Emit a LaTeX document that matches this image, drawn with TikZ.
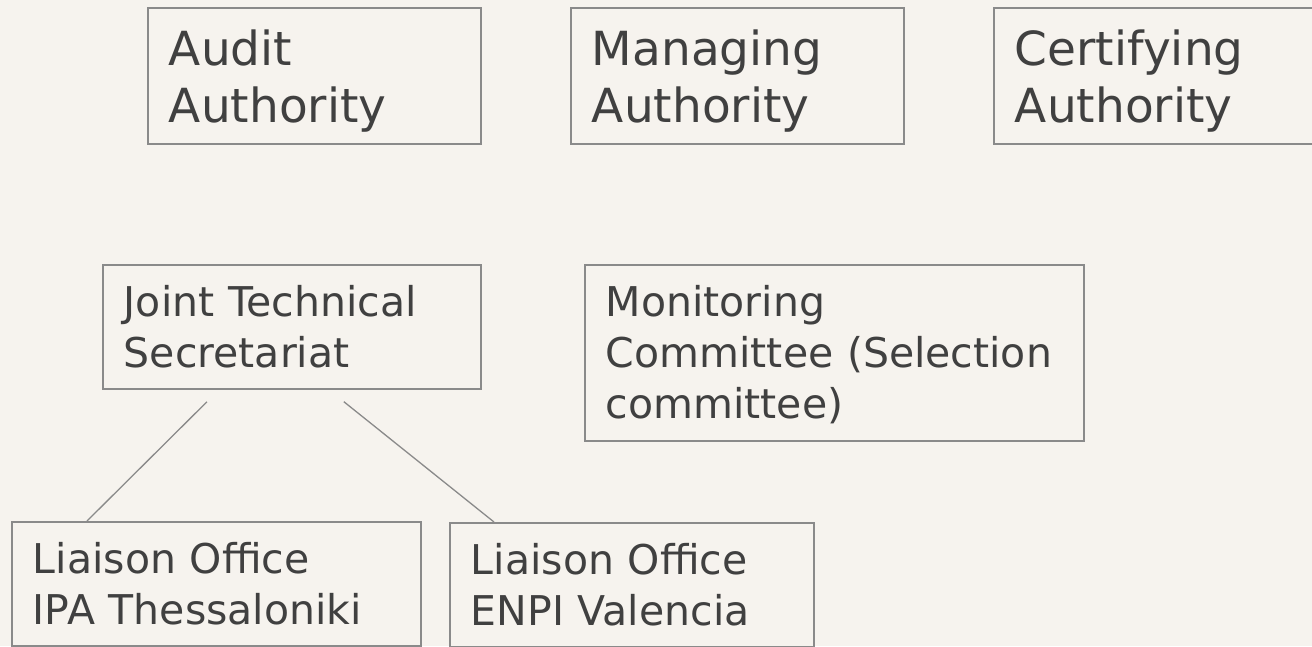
\documentclass[tikz,border=0pt]{standalone}
\usepackage{fontspec}
\setmainfont{DejaVu Sans}
\definecolor{paper}{RGB}{246,243,238}
\definecolor{frame}{RGB}{138,138,138}
\definecolor{ink}{RGB}{64,64,64}
\tikzstyle{body}=[draw=frame, line width=1.8pt, anchor=north west, inner xsep=21pt, inner ysep=0pt, align=left, text=ink]
\tikzstyle{top body}=[body, font=\fontsize{47}{57}\selectfont, text height=58pt, text depth=78pt]
\tikzstyle{low body}=[body, font=\fontsize{41}{51}\selectfont, text height=52pt]
\tikzstyle{link}=[draw=frame, line width=1.3pt]

\begin{document}
\begin{tikzpicture}[x=1pt, y=-1pt]
    \fill[paper] (0,0) rectangle (1312,646);
    \useasboundingbox (0,0) rectangle (1312,646);
    % authorities
    \node[top body, text width=291pt] (audit) at (147,7) {Audit\\Authority};
    \node[top body, text width=291pt] (managing) at (570,7) {Managing\\Authority};
    \node[top body, text width=291pt] (certifying) at (993,7) {Certifying\\Authority};
    % secretariat and committee
    \node[low body, text width=336pt, text depth=72pt] (jts) at (102,264) {Joint Technical\\Secretariat};
    \node[low body, text width=457pt, text depth=124pt] (monitoring) at (584,264) {Monitoring\\Committee (Selection\\committee)};
    % liaison offices
    \node[low body, text width=367pt, text depth=72pt] (ipa) at (11,521) {Liaison Office\\IPA Thessaloniki};
    \node[low body, text width=322pt, text depth=72pt] (enpi) at (449,522) {Liaison Office\\ENPI Valencia};
    \draw[link, shorten <=17pt] ([xshift=117pt]jts.south west) -- ([xshift=76pt]ipa.north west);
    \draw[link, shorten <=19pt] ([xshift=227pt]jts.south west) -- ([xshift=45pt]enpi.north west);
\end{tikzpicture}
\end{document}
